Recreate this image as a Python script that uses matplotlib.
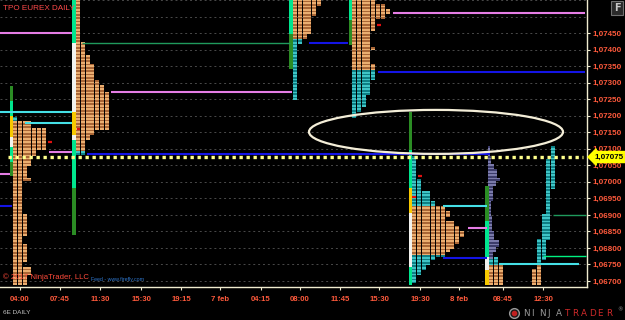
import numpy as np
import matplotlib
matplotlib.use('Agg')
import matplotlib.pyplot as plt
from matplotlib.patches import Ellipse
from matplotlib.lines import Line2D

# x = chart column (session slots), y = price

XTICKS = [20, 60, 100, 141, 181, 220, 261, 300, 340, 379, 420, 459, 503, 543]
XLABELS = ['04:00', '07:45', '11:30', '15:30', '19:15', '7 feb', '04:15',
           '08:00', '11:45', '15:30', '19:30', '8 feb', '08:45', '12:30']
YTICKS = [1.0670 + 0.0005 * i for i in range(16)]   # 1.06700 .. 1.07450
GRID = [1.0670 + 0.0005 * i for i in range(18)]
LAST_PRICE = 1.07075

# TPO profiles: (price high, price low, number of TPO columns)
A_LEFT, A_TAN = 13, (1.06690, 1.07180)
A_ROWS = [(1.07195, 1.07185, 1), (1.07180, 1.07165, 4), (1.07160, 1.07100, 7),
          (1.07095, 1.07080, 5), (1.07075, 1.07050, 4), (1.07045, 1.07015, 3),
          (1.07010, 1.07005, 4), (1.07000, 1.06905, 2), (1.06900, 1.06840, 3),
          (1.06835, 1.06815, 2), (1.06810, 1.06760, 3), (1.06755, 1.06745, 2),
          (1.06740, 1.06720, 4), (1.06715, 1.06690, 3)]

B_LEFT, B_TAN = 76, (1.07095, 1.07550)
B_ROWS = [(1.07550, 1.07425, 1), (1.07420, 1.07385, 2), (1.07380, 1.07360, 3),
          (1.07355, 1.07310, 4), (1.07305, 1.07295, 5), (1.07290, 1.07275, 6),
          (1.07270, 1.07160, 7), (1.07155, 1.07145, 4), (1.07140, 1.07130, 3),
          (1.07125, 1.07085, 2)]

C_LEFT, C_TAN = 293, (1.07435, 1.07550)
C_ROWS = [(1.07550, 1.07535, 6), (1.07530, 1.07505, 5), (1.07500, 1.07450, 4),
          (1.07445, 1.07435, 3), (1.07430, 1.07420, 2), (1.07415, 1.07250, 1)]

D_LEFT, D_TAN = 352, (1.07340, 1.07550)
D_ROWS = [(1.07550, 1.07540, 5), (1.07535, 1.07525, 7), (1.07520, 1.07510, 8),
          (1.07505, 1.07495, 7), (1.07490, 1.07480, 5), (1.07475, 1.07460, 5),
          (1.07455, 1.07410, 4), (1.07405, 1.07400, 5), (1.07395, 1.07360, 4),
          (1.07355, 1.07340, 5), (1.07335, 1.07310, 5), (1.07305, 1.07295, 4),
          (1.07290, 1.07265, 4), (1.07260, 1.07230, 3), (1.07225, 1.07215, 2),
          (1.07210, 1.07195, 1)]

E_LEFT, E_TAN = 412, (1.06780, 1.06925)
E_ROWS = [(1.07075, 1.07010, 1), (1.07005, 1.06975, 2), (1.06970, 1.06945, 4),
          (1.06940, 1.06930, 5), (1.06925, 1.06915, 7), (1.06910, 1.06895, 8),
          (1.06890, 1.06885, 7), (1.06880, 1.06870, 9), (1.06865, 1.06855, 10),
          (1.06850, 1.06835, 11), (1.06830, 1.06815, 10), (1.06810, 1.06800, 9),
          (1.06795, 1.06790, 8), (1.06785, 1.06775, 7), (1.06770, 1.06765, 5),
          (1.06760, 1.06750, 4), (1.06745, 1.06735, 3), (1.06730, 1.06720, 2),
          (1.06715, 1.06695, 1)]

F_LEFT, F_TAN = 489, (1.06690, 1.06745)
F_ROWS = [(1.06770, 1.06750, 2), (1.06745, 1.06690, 3)]

# split profile of the last session: (column, price high, price low, tan?)
G_LEFT = 532
G_COLS = [(0, 1.06735, 1.06690, True), (1, 1.06750, 1.06690, True),
          (1, 1.06825, 1.06755, False), (2, 1.06900, 1.06765, False),
          (3, 1.07065, 1.06825, False), (4, 1.07105, 1.06980, False)]

# volume histogram of the current session: (price high, price low, width)
V_LEFT = 488
V_ROWS = [(1.07105, 1.07080, 2), (1.07075, 1.07055, 3), (1.07050, 1.07040, 6),
          (1.07035, 1.07015, 9), (1.07010, 1.07005, 12), (1.07000, 1.06990, 8),
          (1.06985, 1.06945, 5), (1.06940, 1.06900, 3), (1.06895, 1.06855, 4),
          (1.06850, 1.06825, 6), (1.06820, 1.06805, 11), (1.06800, 1.06790, 8),
          (1.06785, 1.06770, 5)]

# range bars: x, [(high, low, kind)]
RANGES = [
    (11.5, [(1.07290, 1.07245, 'dg'), (1.07245, 1.07200, 'mint'), (1.07200, 1.07135, 'yel'),
            (1.07135, 1.07105, 'wht'), (1.07105, 1.07060, 'mint'), (1.07060, 1.07018, 'dg')]),
    (74, [(1.07550, 1.07420, 'mint'), (1.07420, 1.07211, 'wht'), (1.07211, 1.07142, 'yel'),
          (1.07142, 1.07126, 'wht'), (1.07126, 1.06981, 'mint'), (1.06981, 1.06839, 'dg')]),
    (291, [(1.07550, 1.07447, 'mint'), (1.07447, 1.07341, 'dg')]),
    (350.5, [(1.07550, 1.07490, 'mint'), (1.07490, 1.07414, 'dg')]),
    (410.5, [(1.07211, 1.07096, 'dg'), (1.07096, 1.06981, 'mint'), (1.06981, 1.06906, 'yel'),
             (1.06906, 1.06742, 'wht'), (1.06742, 1.06688, 'mint')]),
    (487, [(1.06987, 1.06881, 'dg'), (1.06881, 1.06773, 'mint'), (1.06773, 1.06733, 'wht'),
           (1.06733, 1.06688, 'yel')]),
]

# level lines: x start, x end, price, kind
LEVELS = [(0, 72, 1.07450, 'pink'), (0, 72, 1.07211, 'cyan'), (25, 72, 1.07178, 'cyan'),
          (0, 10, 1.07024, 'pink'), (0, 12, 1.06927, 'blue'), (49, 72, 1.07090, 'pink'),
          (87, 490, 1.07084, 'blue'), (82, 290, 1.07420, 'green'), (111, 292, 1.07272, 'pink'),
          (309, 348, 1.07420, 'blue'), (378, 585, 1.07332, 'blue'), (393, 585, 1.07511, 'pink'),
          (443, 487, 1.06927, 'cyan'), (468, 487, 1.06860, 'pink'), (443, 487, 1.06770, 'blue'),
          (553, 586, 1.06900, 'green'), (543, 586, 1.06776, 'lime'), (499, 579, 1.06751, 'cyan')]

# open markers
MARKS = [(48, 52, 1.07120), (77, 80, 1.07160), (377, 381, 1.07474),
         (418, 422, 1.07018), (412, 416, 1.06954)]

TICK = 0.00005
CW = 4.8
TAN = ('#eaae70', '#a96636')
CYAN = ('#3fc4c6', '#0e7f84')
SLATE = ('#7a7aaa', '#3c3c6a')
BAR_C = {'dg': '#2b8c24', 'mint': '#00e68e', 'yel': '#f7c900', 'wht': '#f2f2ee'}
LINE_C = {'pink': '#e57de5', 'cyan': '#45e0e6', 'blue': '#1414e6',
          'green': '#1f9a5c', 'lime': '#00f080'}
RED = '#ff5a3c'
CREAM = '#f0ecd0'
SANS = ['Liberation Sans', 'DejaVu Sans']

fig = plt.figure(figsize=(6.25, 3.2), dpi=100, facecolor='black')
ax = fig.add_axes([0, 33 / 320, 587 / 625, 287 / 320], facecolor='black')
ax.set_xlim(0, 587)
ax.set_ylim(1.066818, 1.075500)

for g in GRID:
    ax.axhline(g, color='#4a4a4a', lw=0.7, ls=(0, (2, 3)), zorder=0)


def expand(hi, lo):
    k = int(round((hi - lo) / TICK)) + 1
    return [hi - i * TICK for i in range(k)]


def color_for(p, pal):
    return pal[int(round(p / TICK)) % 2]


def draw_tpo(left, segs, tan_range):
    ys, ls, cs = [], [], []
    for hi, lo, n in segs:
        for p in expand(hi, lo):
            tan = tan_range[0] - 1e-9 <= p <= tan_range[1] + 1e-9
            for j in range(n):
                ys.append(p)
                ls.append(left + j * CW)
                cs.append(color_for(p, TAN if tan else CYAN))
    ax.barh(ys, CW - 0.9, height=TICK, left=ls, color=cs, linewidth=0, zorder=3)


for left, segs, tr in [(A_LEFT, A_ROWS, A_TAN), (B_LEFT, B_ROWS, B_TAN),
                       (C_LEFT, C_ROWS, C_TAN), (D_LEFT, D_ROWS, D_TAN),
                       (E_LEFT, E_ROWS, E_TAN), (F_LEFT, F_ROWS, F_TAN)]:
    draw_tpo(left, segs, tr)

ys, ls, cs = [], [], []
for col, hi, lo, tan in G_COLS:
    for p in expand(hi, lo):
        ys.append(p)
        ls.append(G_LEFT + col * CW)
        cs.append(color_for(p, TAN if tan else CYAN))
ax.barh(ys, CW - 0.9, height=TICK, left=ls, color=cs, linewidth=0, zorder=3)

ys, ws, cs = [], [], []
for hi, lo, w in V_ROWS:
    for p in expand(hi, lo):
        ys.append(p)
        ws.append(w)
        cs.append(color_for(p, SLATE))
ax.barh(ys, ws, height=TICK, left=V_LEFT, color=cs, linewidth=0, zorder=3)

for x, segs in RANGES:
    for hi, lo, kind in segs:
        ax.bar(x, hi - lo, bottom=lo, width=3.5, color=BAR_C[kind], linewidth=0, zorder=4)

for x0, x1, p, kind in LEVELS:
    lw = 1.0 if kind in ('green', 'lime') else 1.5
    ax.plot([x0, x1], [p, p], color=LINE_C[kind], lw=lw, solid_capstyle='butt', zorder=5)

for x0, x1, p in MARKS:
    ax.plot([x0, x1], [p, p], color='#e01010', lw=1.6, solid_capstyle='butt', zorder=5)

ax.add_patch(Ellipse((436, 1.07151), 254, 0.00133, fill=False,
                     ec='#f4eed8', lw=1.6, zorder=6))

ax.plot([8, 583], [LAST_PRICE, LAST_PRICE], color='#ffff8c', lw=2.4,
        ls=(0, (1, 1.1)), dash_capstyle='butt', zorder=7)

# axes styling
for s in ('top', 'left'):
    ax.spines[s].set_visible(False)
for s in ('right', 'bottom'):
    ax.spines[s].set_color(CREAM)
    ax.spines[s].set_linewidth(1.0)
ax.yaxis.tick_right()
ax.set_yticks(YTICKS, [f'{v:.5f}'.replace('.', ',') for v in YTICKS])
ax.set_xticks(XTICKS, XLABELS)
ax.tick_params(axis='y', colors=CREAM, labelcolor=RED, length=2.5, width=0.8,
               labelsize=5.8, pad=1.8)
ax.tick_params(axis='x', colors=CREAM, labelcolor=RED, length=2, width=0.8,
               labelsize=5.6, pad=4.6)
for lab in ax.get_xticklabels() + ax.get_yticklabels():
    lab.set_family(SANS)
    lab.set_fontweight('bold')

ax.annotate(f'{LAST_PRICE:.5f}'.replace('.', ','), xy=(1.0, LAST_PRICE),
            xycoords=('axes fraction', 'data'), xytext=(1.012, LAST_PRICE),
            textcoords=('axes fraction', 'data'), va='center', ha='left',
            fontsize=5.8, fontweight='bold', color='black', family=SANS,
            bbox=dict(boxstyle='larrow,pad=0.25', fc='#ffff00', ec='#ffff00'), zorder=10,
            annotation_clip=False)

# texts
fig.text(3 / 625, 1 - 8 / 320, 'TPO EUREX DAILY', va='center', ha='left',
         color='#ff4a4a', fontsize=5.9, family=SANS)
fig.text(3 / 625, 1 - 277 / 320, '\u00a9 2017 NinjaTrader, LLC', va='center', ha='left',
         color='#ff4a3a', fontsize=5.6, family=SANS)
fig.text(91 / 625, 1 - 279 / 320, 'Feed - www.firefly.com', va='center', ha='left',
         color='#2f78d0', fontsize=3.8, family=SANS)
fig.text(3 / 625, 1 - 313 / 320, '6E DAILY', va='center', ha='left',
         color='#c4c4c4', fontsize=4.6, family=SANS)
fig.text(617 / 625, 1 - 8 / 320, 'F', va='center', ha='center', color='#c8c8c8',
         fontsize=7, fontweight='bold',
         bbox=dict(boxstyle='square,pad=0.25', fc='#2a2a2a', ec='#707070', lw=0.8))

fig.add_artist(Line2D([514 / 625], [1 - 313 / 320], marker='o', ms=7, mfc='#1a1a1a',
                      mec='#9a9a9a', mew=1.0, transform=fig.transFigure))
fig.add_artist(Line2D([514 / 625], [1 - 313 / 320], marker='o', ms=3, mfc='#c02020',
                      mec='#c02020', transform=fig.transFigure))
for i, ch in enumerate('NINJA'):
    fig.text((523 + i * 8.2) / 625, 1 - 313 / 320, ch, va='center', ha='left',
             color='#9a9a9a', fontsize=6.3, family=['DejaVu Sans'])
for i, ch in enumerate('TRADER'):
    fig.text((564 + i * 8.4) / 625, 1 - 313 / 320, ch, va='center', ha='left',
             color='#d02a2a', fontsize=6.3, family=['DejaVu Sans'])
fig.text(617 / 625, 1 - 310 / 320, '\u00ae', va='center', ha='left',
         color='#9a9a9a', fontsize=4)

fig.savefig('out.png', dpi=100, facecolor='black')
